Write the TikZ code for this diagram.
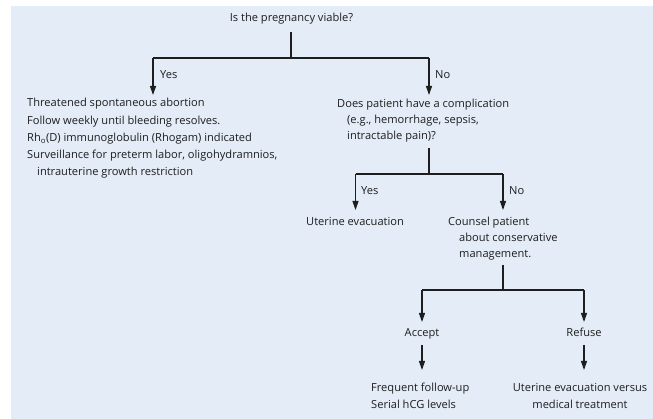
\documentclass[tikz,border=0pt]{standalone}
\usepackage{fontspec}
\setmainfont{Open Sans}
\usetikzlibrary{arrows.meta}
\definecolor{bg}{RGB}{227,236,247}
\definecolor{ink}{RGB}{30,30,30}
\begin{document}
\begin{tikzpicture}[x=1pt,y=-1pt,
  txt/.style={inner sep=0pt, font=\fontsize{11.1}{#1}\selectfont, text=ink, align=left},
  txt/.default=16,
  ctxt/.style={txt=#1, align=center},
  ctxt/.default=16,
  ln/.style={draw=ink, line width=1.1pt},
  arr/.style={ln, -{Triangle[length=9pt,width=6pt]}}]
\useasboundingbox (0,0) rectangle (653,419);
\fill[bg] (11,6) rectangle (653,419);
% texts (base anchor = baseline of the last line)
\node[txt, anchor=base] (q1) at (291.5,22) {Is the pregnancy viable?};
\node[txt=17.2, anchor=base west] (thr) at (27,175.8) {Threatened spontaneous abortion\\Follow weekly until bleeding resolves.\\Rh\textsubscript{o}(D) immunoglobulin (Rhogam) indicated\\Surveillance for preterm labor, oligohydramnios,\\\hspace*{10pt}intrauterine growth restriction};
\node[txt=16, anchor=base west] (q2) at (337,139.5) {Does patient have a complication\\\hspace*{10pt}(e.g., hemorrhage, sepsis,\\\hspace*{10pt}intractable pain)?};
\node[txt, anchor=base west] (yes1) at (160,79) {Yes};
\node[txt, anchor=base west] (no1) at (435,79) {No};
\node[txt, anchor=base west] (yes2) at (361,195) {Yes};
\node[txt, anchor=base west] (no2) at (509,195) {No};
\node[txt, anchor=base west] (evac) at (306,225.5) {Uterine evacuation};
\node[txt=16, anchor=base west] (couns) at (448,257.5) {Counsel patient\\\hspace*{11pt}about conservative\\\hspace*{11pt}management.};
\node[ctxt, anchor=base] (acc) at (422,337) {Accept};
\node[ctxt, anchor=base] (ref) at (584,337) {Refuse};
\node[txt=16.7, anchor=base west] (foll) at (371,408.7) {Frequent follow-up\\Serial hCG levels};
\node[ctxt=16.7, anchor=base] (medt) at (580,408.7) {Uterine evacuation versus\\medical treatment};
% coordinates
\coordinate (a0) at (291,32);
\coordinate (j1) at (291,58);
\coordinate (j1l) at (153,58);
\coordinate (j1r) at (429,58);
\coordinate (t1l) at (153,95);
\coordinate (t1r) at (429,95);
\coordinate (a2) at (429,148);
\coordinate (j2) at (429,174);
\coordinate (j2l) at (355.5,174);
\coordinate (j2r) at (503,174);
\coordinate (t2l) at (355.5,210);
\coordinate (t2r) at (503,210);
\coordinate (a3) at (503,265);
\coordinate (j3) at (503,290);
\coordinate (j3l) at (422,290);
\coordinate (j3r) at (584,290);
\coordinate (t3l) at (422,322);
\coordinate (t3r) at (584,322);
\coordinate (a4l) at (422,345);
\coordinate (a4r) at (584,345);
\coordinate (t4l) at (422,370);
\coordinate (t4r) at (584,370);
% connectors
\draw[ln] (a0) -- (j1);
\draw[ln] (j1l) -- (j1r);
\draw[arr] (j1l) -- (t1l);
\draw[arr] (j1r) -- (t1r);
\draw[ln] (a2) -- (j2);
\draw[ln] (j2l) -- (j2r);
\draw[arr] (j2l) -- (t2l);
\draw[arr] (j2r) -- (t2r);
\draw[ln] (a3) -- (j3);
\draw[ln] (j3l) -- (j3r);
\draw[arr] (j3l) -- (t3l);
\draw[arr] (j3r) -- (t3r);
\draw[arr] (a4l) -- (t4l);
\draw[arr] (a4r) -- (t4r);
\end{tikzpicture}
\end{document}
